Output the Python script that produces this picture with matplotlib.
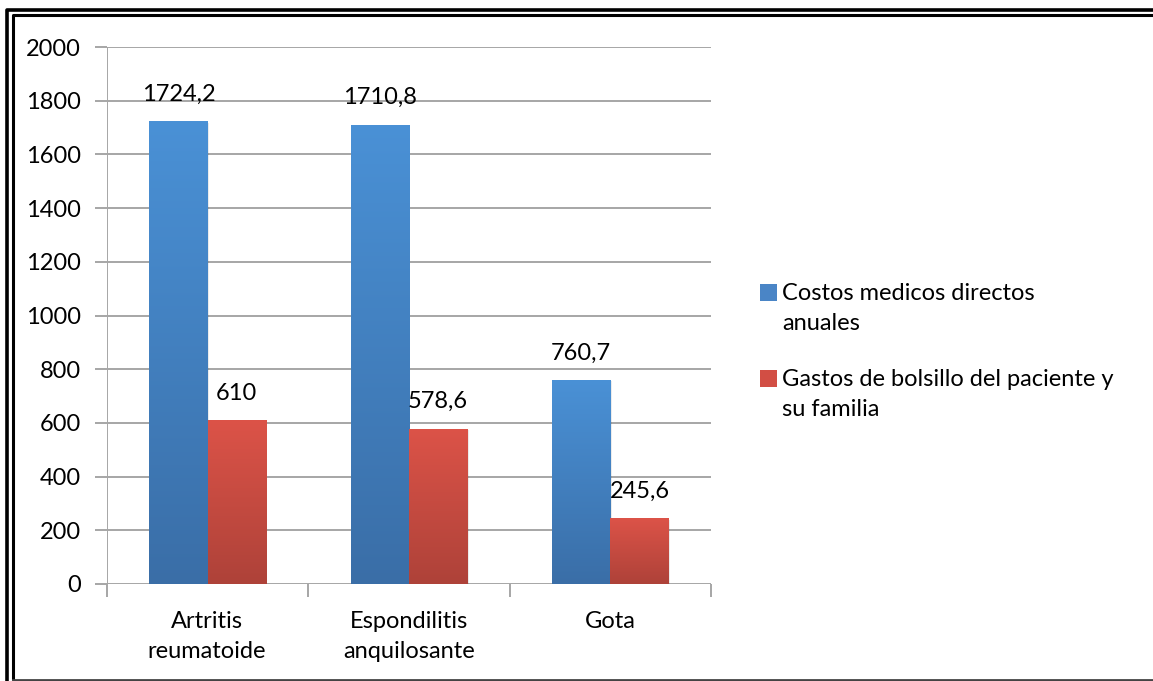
import numpy as np
import matplotlib
matplotlib.use("Agg")
import matplotlib.pyplot as plt
from matplotlib.colors import LinearSegmentedColormap
from matplotlib.patches import Rectangle

plt.rcParams['font.family'] = ['Lato', 'DejaVu Sans']

categories = ["Artritis\nreumatoide", "Espondilitis\nanquilosante", "Gota"]
series_names = ["Costos medicos directos\nanuales",
                "Gastos de bolsillo del paciente y\nsu familia"]
costos_directos = [1724.2, 1710.8, 760.7]
gastos_bolsillo = [610, 578.6, 245.6]
y_ticks = [0, 200, 400, 600, 800, 1000, 1200, 1400, 1600, 1800, 2000]

FS = 17
W, H = 1153, 681
fig = plt.figure(figsize=(W / 100, H / 100), dpi=100)
fig.patch.set_facecolor("white")

# frame drawn in pixel space
frame = fig.add_axes([0, 0, 1, 1])
frame.set_xlim(0, W)
frame.set_ylim(H, 0)
frame.axis("off")
frame.plot([6.5, 6.5, W + 5], [H + 5, 9.5, 9.5], color="black", lw=2.6,
           solid_joinstyle="round", solid_capstyle="butt")
frame.plot([12.5, 12.5, W + 5], [679.5, 14.5, 14.5], color="black", lw=2.2,
           solid_joinstyle="round", solid_capstyle="butt")
frame.plot([12.5, W + 5], [679.5, 679.5], color="#444444", lw=2.0)

ax = fig.add_axes([107 / W, 1 - 584 / H, (711 - 107) / W, (584 - 47) / H])
ax.set_xlim(0, 3)
ax.set_ylim(0, 2000)

grid_col = "#A6A6A6"
for t in y_ticks:
    ax.axhline(t, color=grid_col, lw=1.4, zorder=1)
for s in ax.spines.values():
    s.set_visible(False)
ax.axvline(0, color=grid_col, lw=1.4, zorder=1)

ax.set_yticks(y_ticks)
ax.set_yticklabels([str(t) for t in y_ticks], fontsize=FS)
ax.tick_params(axis="y", length=9, width=1.4, color=grid_col, pad=10)
ax.set_xticks([0, 1, 2, 3])
ax.set_xticklabels([])
ax.tick_params(axis="x", length=9, width=1.4, color=grid_col)

# category labels, one line at a time (pixel space)
cat_x = [207, 409, 610]
for cx, c in zip(cat_x, categories):
    for k, line in enumerate(c.split("\n")):
        frame.text(cx, 621 + 31 * k, line, ha="center", va="center",
                   fontsize=FS)

blue_cmap = LinearSegmentedColormap.from_list("b", ["#3A6EA7", "#4A91D6"])
red_cmap = LinearSegmentedColormap.from_list("r", ["#AE4239", "#DC5348"])
grad = np.linspace(0, 1, 256).reshape(-1, 1)

bw = 0.29
def gbar(x0, h, cmap):
    # soft shadow
    ax.add_patch(Rectangle((x0 + 0.006, 0), bw, h - 6, color="#000000",
                           alpha=0.08, zorder=2, lw=0))
    im = ax.imshow(grad, extent=[x0, x0 + bw, 0, h], origin="lower",
                   cmap=cmap, aspect="auto", zorder=3)
    r = Rectangle((x0, 0), bw, h, transform=ax.transData, fill=False, lw=0)
    ax.add_patch(r)
    im.set_clip_path(r)

def fmt(v):
    return f"{v:g}".replace(".", ",")

for i in range(3):
    xb = i + 0.5 - bw
    xr = i + 0.5
    gbar(xb, costos_directos[i], blue_cmap)
    gbar(xr, gastos_bolsillo[i], red_cmap)
    ax.text(xb + bw / 2, costos_directos[i] + 100, fmt(costos_directos[i]),
            ha="center", va="center", fontsize=FS, zorder=5)
    ax.text(xr + bw / 2, gastos_bolsillo[i] + 100, fmt(gastos_bolsillo[i]),
            ha="center", va="center", fontsize=FS, zorder=5)

ax.set_xlim(0, 3)
ax.set_ylim(0, 2000)

# legend
for k, (name, col) in enumerate(zip(series_names, ["#4A85C6", "#D24E44"])):
    yc = 293 + k * 86
    frame.add_patch(Rectangle((760, yc - 9), 17, 17, color=col, lw=0))
    for j, line in enumerate(name.split("\n")):
        frame.text(782, yc + 30 * j, line, ha="left", va="center",
                   fontsize=FS)

fig.savefig("out.png", dpi=100)
